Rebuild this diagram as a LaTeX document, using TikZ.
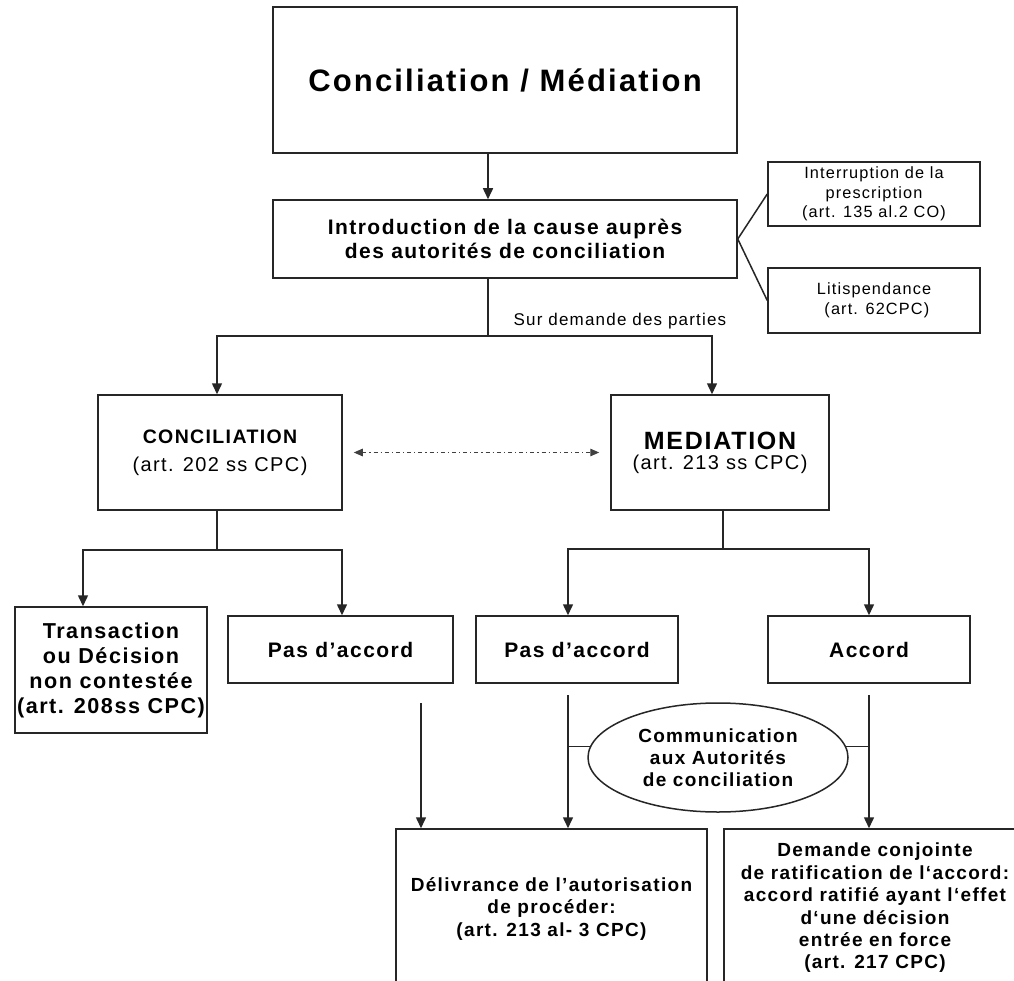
\documentclass[tikz,border=0pt]{standalone}
\usepackage{fontspec}
\setmainfont[LetterSpace=7]{Liberation Sans}
\usetikzlibrary{arrows.meta,shapes.geometric}
\newcommand\fsz[2]{\fontsize{#1}{#2}\selectfont}
\begin{document}
\begin{tikzpicture}[x=1pt,y=-1pt,line width=1.5pt,
  box/.style={draw=black!85,rectangle,inner sep=0pt,align=center},
  txt/.style={inner sep=0pt,align=center},
  arr/.style={draw=black!85,-{Triangle[length=11pt,width=10pt]}},
  ln/.style={draw=black!85},
  dd/.style={draw=black!75,line width=1.2pt,dash pattern=on 4pt off 3pt on 1.2pt off 3pt,
    {Triangle[length=9pt,width=7.5pt]}-{Triangle[length=9pt,width=7.5pt]}}]
\path[use as bounding box] (0,0) rectangle (1014,981);
\clip (0,0) rectangle (1014,981);
\fill[white] (0,0) rectangle (1014,981);

% top
\node[box,minimum width=464pt,minimum height=146pt,font=\fsz{31}{36}\bfseries] (top) at (505,80) {Conciliation / Médiation};
\node[box,minimum width=464pt,minimum height=78pt,font=\fsz{21}{24}\bfseries] (intro) at (505,239) {Introduction de la cause auprès\\des autorités de conciliation};
\node[box,minimum width=212pt,minimum height=64pt,font=\fsz{16.3}{19.5}] (interr) at (874,194) {Interruption de la\\prescription\\(art. 135 al.2 CO)};
\node[box,minimum width=212pt,minimum height=65pt,font=\fsz{16.3}{20}] (litis) at (874,300.5) {Litispendance\\\ (art. 62CPC)};
\node[txt,font=\fsz{17}{20}] (sur) at (620,321) {Sur demande des parties};

% second row
\node[box,minimum width=244pt,minimum height=115pt,font=\fsz{20}{28}] (conc) at (220,452.5) {{\fsz{19.5}{28}\bfseries CONCILIATION}\\(art. 202 ss CPC)};
\node[box,minimum width=218pt,minimum height=115pt,font=\fsz{20}{20}] (med) at (720,452.5) {{\fsz{25}{20}\bfseries MEDIATION}\\(art. 213 ss CPC)};

% third row
\node[box,minimum width=192pt,minimum height=126pt,font=\fsz{21.6}{25}\bfseries] (trans) at (111,670) {Transaction\\ou Décision\\non contestée\\(art. 208ss CPC)};
\node[box,minimum width=225pt,minimum height=67pt,font=\fsz{21}{24}\bfseries] (pa1) at (340.5,649.5) {Pas d’accord};
\node[box,minimum width=202pt,minimum height=67pt,font=\fsz{21}{24}\bfseries] (pa2) at (577,649.5) {Pas d’accord};
\node[box,minimum width=202pt,minimum height=67pt,font=\fsz{21}{24}\bfseries] (acc) at (869,649.5) {Accord};

% ellipse
\node[draw=black!85,ellipse,inner sep=0pt,minimum width=260pt,minimum height=109pt,align=center,font=\fsz{19}{22}\bfseries] (comm) at (718,757.5) {Communication\\aux Autorités\\de conciliation};

% bottom boxes
\node[box,minimum width=311pt,minimum height=211pt] (bl) at (551.5,934.5) {};
\node[box,minimum width=316pt,minimum height=211pt] (br) at (882,934.5) {};
\node[txt,font=\fsz{19}{22.5}\bfseries] (blT) at (551.5,908.5) {Délivrance de l’autorisation\\de procéder:\\(art. 213 al- 3 CPC)};
\node[txt,font=\fsz{19}{22.4}\bfseries] (brT) at (875,908) {Demande conjointe\\de ratification de l‘accord:\\accord ratifié ayant l‘effet\\d‘une décision\\entrée en force\\(art. 217 CPC)};

% connectors
\draw[arr] ([xshift=-17pt]top.south) -- ([xshift=-17pt]intro.north);
\draw[ln] (intro.east) -- (interr.west);
\draw[ln] (intro.east) -- (litis.west);
\coordinate (s1) at (488,336);
\draw[ln] ([xshift=-17pt]intro.south) -- (s1);
\draw[arr] (s1) -| ([xshift=-3pt]conc.north);
\draw[arr] (s1) -| ([xshift=-8pt]med.north);
\draw[dd] ([xshift=11pt]conc.east) -- ([xshift=-11pt]med.west);

\coordinate (s2) at (217,550);
\draw[ln] ([xshift=-3pt]conc.south) -- (s2);
\draw[arr] (s2) -| ([xshift=-28pt]trans.north);
\draw[arr] (s2) -| ([xshift=1.5pt]pa1.north);

\coordinate (s3) at (723,549);
\draw[ln] ([xshift=3pt]med.south) -- (s3);
\draw[arr] (s3) -| ([xshift=-9pt]pa2.north);
\draw[arr] (s3) -| (acc.north);

\coordinate (v1) at (421,703);
\coordinate (v2) at (568,695);
\coordinate (v3) at (869,695);
\draw[arr] (v1) -- (v1 |- bl.north);
\draw[arr] (v2) -- (v2 |- bl.north);
\draw[arr] (v3) -- (v3 |- br.north);
\draw[ln] (comm.175) -- (comm.175 -| v2);
\draw[ln] (comm.5) -- (comm.5 -| v3);
\end{tikzpicture}
\end{document}
